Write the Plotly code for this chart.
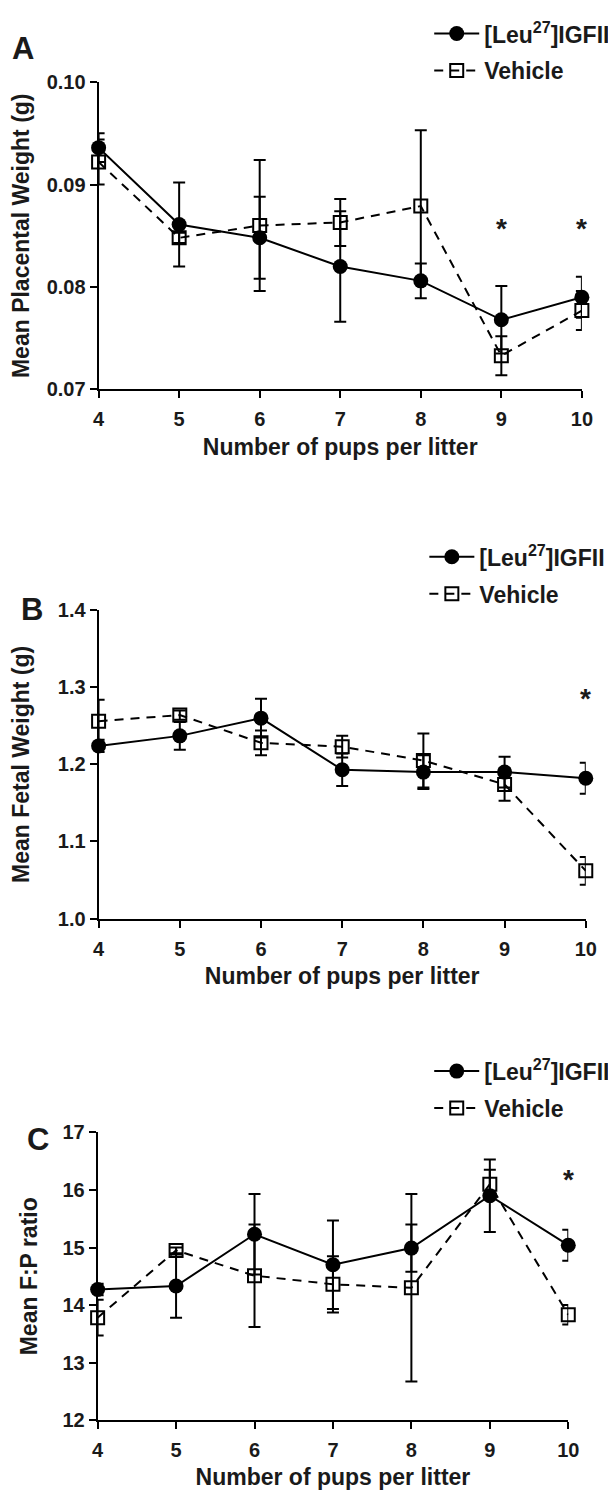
import plotly.graph_objects as go

# ---------------- data ----------------
pups = [4, 5, 6, 7, 8, 9, 10]

placental_leu = [0.0936, 0.0861, 0.0848, 0.0820, 0.0806, 0.0768, 0.0790]
placental_leu_sem = [0.0014, 0.0041, 0.0040, 0.0054, 0.0017, 0.0033, 0.0020]
placental_veh = [0.0922, 0.0848, 0.0860, 0.0863, 0.0879, 0.0733, 0.0777]
placental_veh_sem = [0.0022, 0.0005, 0.0064, 0.0023, 0.0074, 0.0019, 0.0019]

fetal_leu = [1.224, 1.237, 1.260, 1.193, 1.190, 1.190, 1.182]
fetal_leu_sem = [0.008, 0.018, 0.025, 0.021, 0.022, 0.020, 0.020]
fetal_veh = [1.256, 1.264, 1.228, 1.223, 1.205, 1.174, 1.062]
fetal_veh_sem = [0.028, 0.006, 0.016, 0.014, 0.035, 0.021, 0.018]

fp_leu = [14.27, 14.33, 15.23, 14.70, 14.99, 15.90, 15.04]
fp_leu_sem = [0.10, 0.55, 0.70, 0.77, 0.41, 0.63, 0.27]
fp_veh = [13.78, 14.95, 14.51, 14.36, 14.30, 16.10, 13.83]
fp_veh_sem = [0.31, 0.05, 0.89, 0.49, 1.63, 0.25, 0.17]

placental_ticks = [0.07, 0.08, 0.09, 0.10]
placental_ticktext = ["0.07", "0.08", "0.09", "0.10"]
fetal_ticks = [1.0, 1.1, 1.2, 1.3, 1.4]
fetal_ticktext = ["1.0", "1.1", "1.2", "1.3", "1.4"]
fp_ticks = [12, 13, 14, 15, 16, 17]
fp_ticktext = ["12", "13", "14", "15", "16", "17"]

# significance markers (x, y) per panel
sig_A = ([9, 10], [0.0863, 0.0863])
sig_B = ([10], [1.2936])
sig_C = ([10], [16.29])

leu_name = "[Leu<sup>27</sup>]IGFII"
veh_name = "Vehicle"
x_title = "Number of pups per litter"

# ---------------- style ----------------
FONT = "Liberation Sans, Arial, Helvetica, sans-serif"
INK = "#1a1a1a"
W, H = 616, 1499
OFF = 8  # page body margin offset

fig = go.Figure()

panels = [
    ("x", "y", "legend", placental_leu, placental_leu_sem, placental_veh, placental_veh_sem),
    ("x2", "y2", "legend2", fetal_leu, fetal_leu_sem, fetal_veh, fetal_veh_sem),
    ("x3", "y3", "legend3", fp_leu, fp_leu_sem, fp_veh, fp_veh_sem),
]

for xa, ya, lg, leu, leu_e, veh, veh_e in panels:
    fig.add_trace(go.Scatter(
        x=pups, y=leu, xaxis=xa, yaxis=ya, name=leu_name, legend=lg,
        legendgroup=lg + "leu", mode="lines+markers", cliponaxis=False,
        line=dict(color="black", width=2),
        marker=dict(symbol="circle", size=15, color="black"),
        error_y=dict(type="data", array=leu_e, color="black", thickness=2, width=6),
    ))
    fig.add_trace(go.Scatter(
        x=pups, y=veh, xaxis=xa, yaxis=ya, name=veh_name, legend=lg,
        legendgroup=lg + "veh", mode="lines+markers", cliponaxis=False,
        line=dict(color="black", width=2, dash="9px,7px"),
        marker=dict(symbol="square-open", size=13, color="black", line=dict(width=2)),
        error_y=dict(type="data", array=veh_e, color="black", thickness=2, width=6),
    ))

def px_x(v):
    return (v - OFF) / W

def px_y(v):
    return 1 - (v - OFF) / H

axis_common = dict(
    showline=True, linecolor="black", linewidth=2, showgrid=False, zeroline=False,
    ticks="outside", ticklen=7, tickwidth=2, tickcolor="black",
    tickfont=dict(family=FONT, size=20, color=INK, weight="bold"),
)

def xaxis(domain, anchor):
    return dict(
        axis_common, domain=domain, anchor=anchor, range=[4, 10],
        tickvals=pups, ticktext=[str(p) for p in pups], ticklabelstandoff=4,
        title=dict(text=x_title, standoff=9,
                   font=dict(family=FONT, size=23, color=INK, weight="bold")),
    )

def yaxis(domain, anchor, rng, tv, tt, title, standoff):
    return dict(
        axis_common, domain=domain, anchor=anchor, range=rng,
        tickvals=tv, ticktext=tt,
        title=dict(text=title, standoff=standoff,
                   font=dict(family=FONT, size=23, color=INK, weight="bold")),
    )

legend_common = dict(
    font=dict(family=FONT, size=23, color=INK, weight="bold"),
    bgcolor="rgba(0,0,0,0)", traceorder="grouped", tracegroupgap=4,
    xanchor="left", yanchor="top", itemwidth=45,
)

annotations = []
for lbl, xx, yy in [("A", 17, 38), ("B", 26, 607), ("C", 33, 1145)]:
    annotations.append(dict(
        text=lbl, x=px_x(xx), y=px_y(yy), xref="paper", yref="paper",
        showarrow=False, xanchor="center", yanchor="middle",
        font=dict(family=FONT, size=31, color=INK, weight="bold"),
    ))
for (xs, ys), xr, yr in [(sig_A, "x", "y"), (sig_B, "x2", "y2"), (sig_C, "x3", "y3")]:
    for xv, yv in zip(xs, ys):
        annotations.append(dict(
            text="*", x=xv, y=yv, xref=xr, yref=yr, showarrow=False,
            xanchor="center", yanchor="middle", yshift=-6,
            font=dict(family=FONT, size=28, color=INK, weight="bold"),
        ))

fig.update_layout(
    width=W, height=H, autosize=False,
    margin=dict(l=0, r=0, t=0, b=0),
    paper_bgcolor="white", plot_bgcolor="white",
    showlegend=True,
    xaxis=xaxis([px_x(95), px_x(592)], "y"),
    yaxis=yaxis([px_y(384), px_y(72)], "x", [0.07, 0.10], placental_ticks,
                placental_ticktext, "Mean Placental Weight (g)", 12),
    xaxis2=xaxis([px_x(95), px_x(596)], "y2"),
    yaxis2=yaxis([px_y(921), px_y(608)], "x2", [1.0, 1.4], fetal_ticks,
                 fetal_ticktext, "Mean Fetal Weight (g)", 23),
    xaxis3=xaxis([px_x(94), px_x(578)], "y3"),
    yaxis3=yaxis([px_y(1430), px_y(1138)], "x3", [12, 17], fp_ticks,
                 fp_ticktext, "Mean F:P ratio", 18),
    legend=dict(legend_common, x=px_x(435), y=px_y(1)),
    legend2=dict(legend_common, x=px_x(430), y=px_y(532)),
    legend3=dict(legend_common, x=px_x(435), y=px_y(1054)),
    annotations=annotations,
)

fig.write_html("out.html")
